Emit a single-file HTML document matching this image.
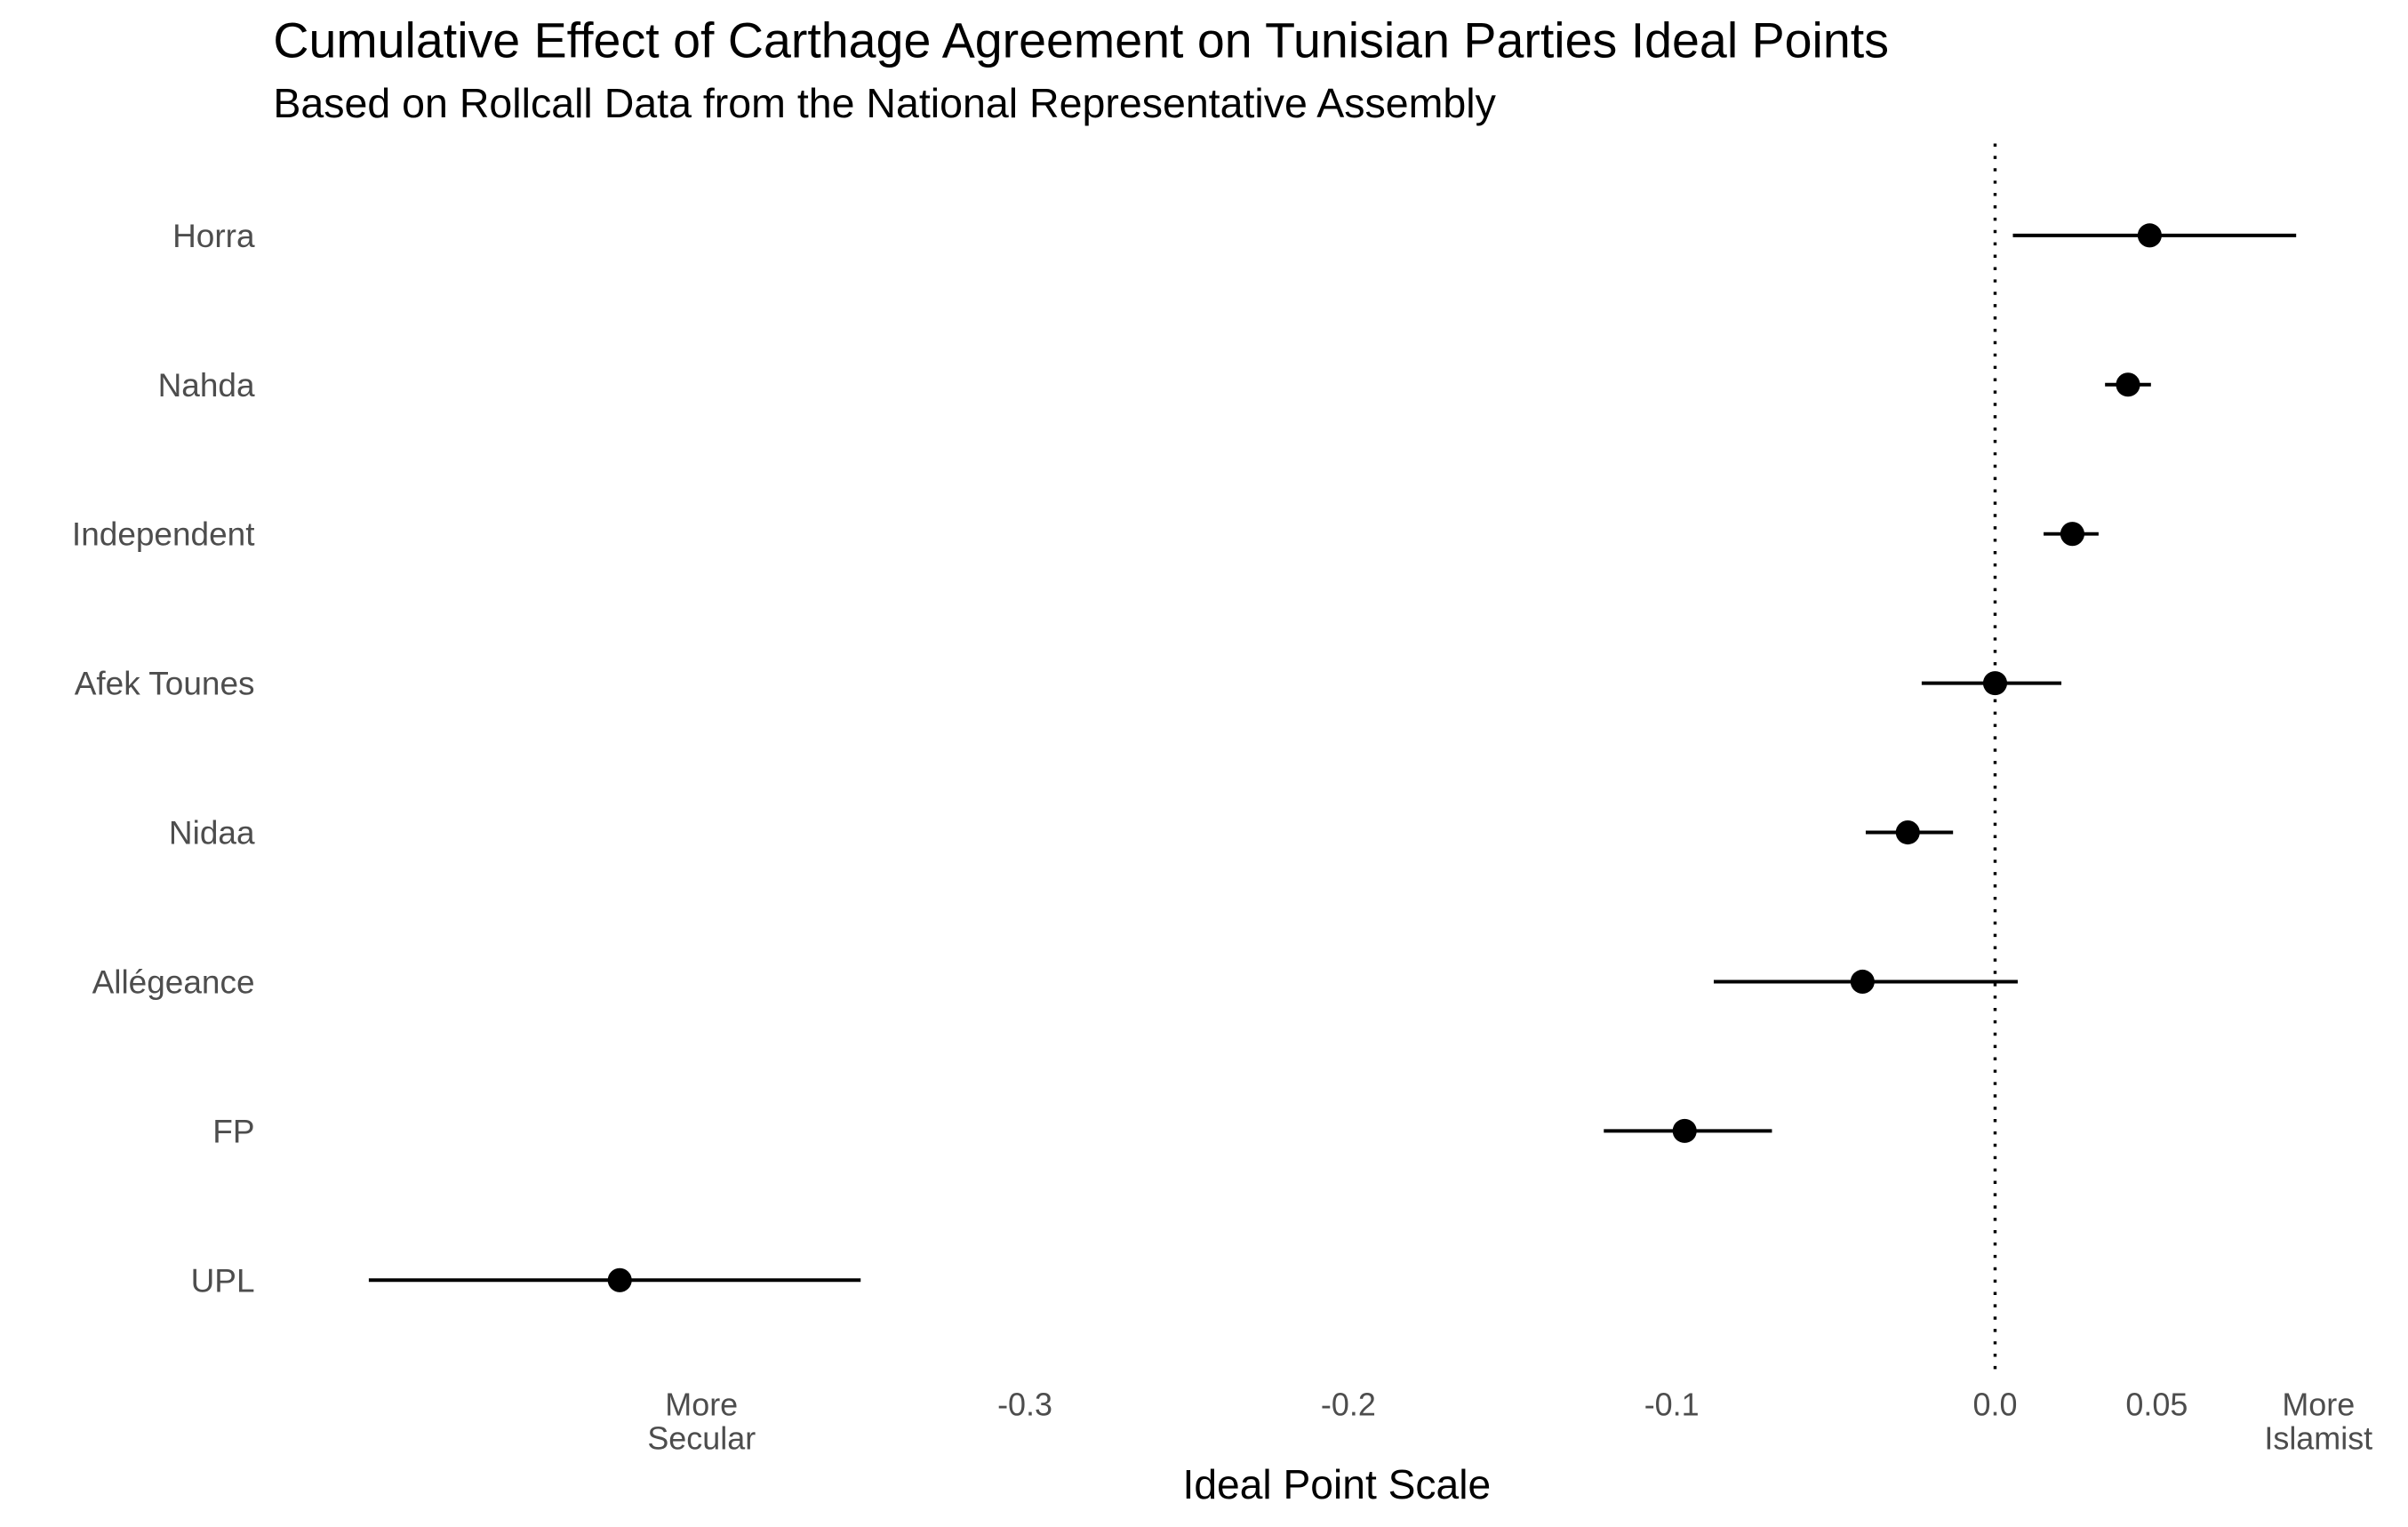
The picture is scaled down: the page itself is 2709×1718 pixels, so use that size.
<!DOCTYPE html>
<html><head><meta charset="utf-8">
<style>
html,body{margin:0;padding:0;background:#fff;}
svg{display:block;font-family:"Liberation Sans",Arial,sans-serif;}
</style></head>
<body>
<svg id="chart" width="2709" height="1718" viewBox="0 0 1560 989.3" xmlns="http://www.w3.org/2000/svg">
<rect width="1560" height="989.3" fill="#fff"/>
<text x="177" y="37" font-size="32" fill="#000">Cumulative Effect of Carthage Agreement on Tunisian Parties Ideal Points</text>
<text x="177" y="76" font-size="26.8" fill="#000">Based on Rollcall Data from the National Representative Assembly</text>
<text x="866" y="971" font-size="26.6" text-anchor="middle" fill="#000">Ideal Point Scale</text>
<g id="plot"></g>
</svg>
<script>
const parties = ["Horra","Nahda","Independent","Afek Tounes","Nidaa","Allégeance","FP","UPL"];
const estimates = [0.0478, 0.0411, 0.0239, 0.0, -0.027, -0.041, -0.096, -0.4253];
const lowerBounds = [0.0055, 0.034, 0.015, -0.0227, -0.040, -0.087, -0.121, -0.5029];
const upperBounds = [0.0931, 0.0482, 0.032, 0.0205, -0.013, 0.007, -0.069, -0.3508];
const tickValues = [-0.4, -0.3, -0.2, -0.1, 0.0, 0.05, 0.1];
const tickLabels = [["More","Secular"], ["-0.3"], ["-0.2"], ["-0.1"], ["0.0"], ["0.05"], ["More","Islamist"]];

const NS = "http://www.w3.org/2000/svg";
const g = document.getElementById("plot");
function xScale(v){ return 1292.5 + v * 2095; }
function yScale(i){ return 152.5 + i * 96.7; }
function mk(tag, attrs){ const e = document.createElementNS(NS, tag); for (const k in attrs) e.setAttribute(k, attrs[k]); g.appendChild(e); return e; }

const zl = mk("line", {x1: xScale(0), x2: xScale(0), y1: 93, y2: 893, stroke: "#000", "stroke-width": 2, "stroke-dasharray": "2 6"});



tickValues.forEach((v, i) => {
  const t = mk("text", {x: xScale(v), y: 917, "font-size": 20.7, fill: "#4d4d4d", "text-anchor": "middle"});
  
  
  tickLabels[i].forEach((s, j) => {
    const ts = document.createElementNS(NS, "tspan");
    ts.setAttribute("x", xScale(v));
    ts.setAttribute("dy", j === 0 ? 0 : 22);
    ts.textContent = s;
    t.appendChild(ts);
  });
});

parties.forEach((p, i) => {
  const y = yScale(i);
  const lab = mk("text", {x: 165, y: y + 7.5, "font-size": 21.3, fill: "#4d4d4d", "text-anchor": "end"});
  
  
  lab.textContent = p;
  const ln = mk("line", {x1: xScale(lowerBounds[i]), x2: xScale(upperBounds[i]), y1: y, y2: y, stroke: "#000", "stroke-width": 2.3});
  
  
  const c = mk("circle", {cx: xScale(estimates[i]), cy: y, r: 7.8, fill: "#000"});
  
  
});
</script>
</body></html>
